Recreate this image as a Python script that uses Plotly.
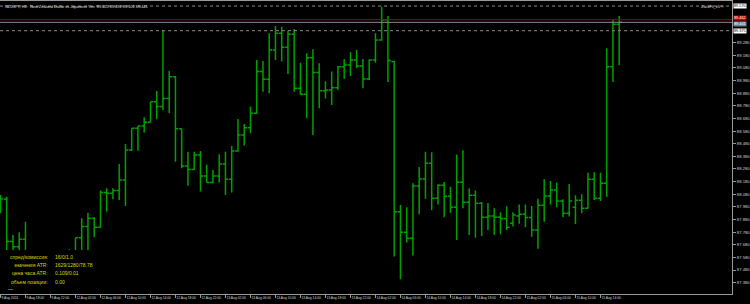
import plotly.graph_objects as go

# ---- data (NZDJPY H1, 9 Aug 14:00 .. 15 Aug 17:00) ----
bar_index = list(range(100))
open_ = [87.982, 88.043, 87.705, 87.665, 87.723, 87.560, 87.480, 87.428, 87.454, 87.507,
         87.560, 87.533, 87.612, 87.736, 87.824, 87.889, 87.818, 88.093, 88.087, 88.109,
         88.193, 88.430, 88.602, 88.620, 88.650, 88.813, 88.774, 88.837, 89.011, 88.599,
         88.304, 88.275, 88.391, 88.225, 88.172, 88.225, 88.320, 88.198, 88.423, 88.549,
         88.607, 88.721, 89.051, 88.990, 89.222, 89.354, 89.243, 89.346, 88.919, 88.871,
         89.161, 89.043, 88.900, 88.905, 88.924, 89.090, 89.103, 89.143, 89.095, 88.993,
         89.143, 89.301, 89.460, 89.130, 87.942, 87.779, 87.731, 88.145, 88.201, 88.325,
         88.048, 88.151, 88.064, 87.977, 88.175, 88.016, 88.072, 88.008, 87.897, 87.908,
         87.897, 87.887, 87.850, 87.908, 87.921, 87.895, 87.797, 87.992, 88.066, 88.114,
         88.027, 87.929, 87.977, 88.032, 87.969, 88.198, 88.048, 88.167, 89.090, 89.425]
high = [88.074, 88.061, 87.758, 87.779, 87.863, 87.586, 87.533, 87.507, 87.533, 87.599,
        87.612, 87.644, 87.736, 87.889, 87.934, 87.897, 88.109, 88.127, 88.127, 88.320,
        88.478, 88.602, 88.620, 88.689, 88.813, 88.898, 89.381, 89.056, 89.016, 88.599,
        88.417, 88.417, 88.423, 88.314, 88.272, 88.396, 88.417, 88.462, 88.676, 88.636,
        88.774, 89.143, 89.135, 89.354, 89.412, 89.407, 89.375, 89.388, 89.122, 89.196,
        89.227, 89.117, 88.974, 89.051, 89.095, 89.148, 89.204, 89.222, 89.151, 89.148,
        89.354, 89.565, 89.491, 89.135, 87.995, 87.977, 88.167, 88.296, 88.417, 88.412,
        88.159, 88.177, 88.140, 88.394, 88.428, 88.127, 88.109, 88.019, 88.011, 87.969,
        87.937, 87.984, 87.937, 87.998, 87.998, 87.987, 88.045, 88.198, 88.185, 88.172,
        88.040, 88.161, 88.072, 88.080, 88.251, 88.254, 88.251, 89.235, 89.465, 89.491]
low = [87.929, 87.533, 87.560, 87.586, 87.507, 87.428, 87.375, 87.348, 87.388, 87.428,
       87.467, 87.480, 87.533, 87.612, 87.599, 87.739, 87.818, 87.942, 88.040, 88.035,
       87.987, 88.423, 88.425, 88.568, 88.647, 88.673, 88.747, 88.721, 88.338, 88.285,
       88.148, 88.272, 88.101, 88.172, 88.167, 88.172, 88.074, 88.093, 88.417, 88.465,
       88.562, 88.715, 88.892, 88.879, 89.143, 89.130, 89.032, 88.892, 88.866, 88.681,
       88.549, 88.760, 88.837, 88.787, 88.905, 88.995, 89.016, 89.077, 88.919, 88.985,
       89.122, 89.296, 88.969, 87.586, 87.406, 87.697, 87.594, 87.921, 88.045, 87.953,
       87.998, 87.897, 87.934, 87.718, 87.969, 87.758, 87.736, 87.750, 87.797, 87.758,
       87.763, 87.797, 87.824, 87.847, 87.818, 87.744, 87.649, 87.863, 87.998, 87.977,
       87.897, 87.903, 87.845, 87.929, 87.966, 88.035, 88.027, 88.061, 88.969, 89.101]
close = [88.043, 87.705, 87.665, 87.723, 87.560, 87.480, 87.428, 87.454, 87.507, 87.560,
         87.533, 87.612, 87.736, 87.824, 87.889, 87.818, 88.093, 88.087, 88.109, 88.193,
         88.430, 88.602, 88.620, 88.650, 88.813, 88.774, 88.837, 89.011, 88.599, 88.304,
         88.275, 88.391, 88.225, 88.172, 88.225, 88.320, 88.198, 88.423, 88.549, 88.607,
         88.721, 89.051, 88.990, 89.222, 89.354, 89.243, 89.346, 88.919, 88.871, 89.161,
         89.043, 88.900, 88.905, 88.924, 89.090, 89.103, 89.143, 89.095, 88.993, 89.143,
         89.301, 89.460, 89.138, 87.942, 87.779, 87.731, 88.145, 88.201, 88.325, 88.048,
         88.151, 88.064, 87.977, 88.175, 88.016, 88.072, 88.008, 87.897, 87.908, 87.897,
         87.887, 87.818, 87.916, 87.921, 87.895, 87.797, 87.992, 88.066, 88.114, 88.027,
         87.929, 88.027, 88.032, 87.969, 88.198, 88.048, 88.167, 89.090, 89.425, 89.441]

x_tick_index = list(range(0, 100, 4))
x_tick_labels = ["9 Aug 2024", "9 Aug 18:00", "9 Aug 22:00",
                 "12 Aug 02:00", "12 Aug 06:00", "12 Aug 10:00", "12 Aug 14:00", "12 Aug 18:00", "12 Aug 22:00",
                 "13 Aug 02:00", "13 Aug 06:00", "13 Aug 10:00", "13 Aug 14:00", "13 Aug 18:00", "13 Aug 22:00",
                 "14 Aug 02:00", "14 Aug 06:00", "14 Aug 10:00", "14 Aug 14:00", "14 Aug 18:00", "14 Aug 22:00",
                 "15 Aug 02:00", "15 Aug 06:00", "15 Aug 10:00", "15 Aug 14:00"]
y_tick_values = [round(87.38 + 0.1 * k, 2) for k in range(20)]
y_tick_labels = ["%.3f" % v for v in y_tick_values]

level_high = 89.570
level_low = 89.375
ask_price = 89.462
bid_price = 89.441

info_labels = ["спред/комиссия:", "значения ATR:", "цена часа ATR:", "объем позиции:"]
info_values = ["16/0/1.0", "1629/1280/78.78", "0.109/0.01", "0.00"]

title_text = "NZDJPY, H1:  New Zealand Dollar vs Japanese Yen  %.3f %.3f %.3f %.3f" % (
    open_[-1], high[-1], low[-1], close[-1])

# ---- figure ----
fig = go.Figure()
fig.add_trace(go.Ohlc(
    x=bar_index, open=open_, high=high, low=low, close=close,
    increasing=dict(line=dict(color="#00a000", width=1.5)),
    decreasing=dict(line=dict(color="#00a000", width=1.5)),
    tickwidth=0.45, hoverinfo="skip", showlegend=False))

FONT = "Liberation Sans"
axis_col = "#9a9a9a"
fig.update_layout(
    width=750, height=304, autosize=False,
    margin=dict(l=0, r=18, t=1, b=10),
    paper_bgcolor="black", plot_bgcolor="black",
    showlegend=False,
    xaxis=dict(range=[-0.072, 117.05], rangeslider=dict(visible=False),
               showgrid=False, zeroline=False,
               showline=True, linecolor=axis_col, linewidth=1, mirror=True,
               tickmode="array", tickvals=x_tick_index, ticktext=x_tick_labels,
               ticks="outside", ticklen=3, tickcolor=axis_col, tickangle=0,
               ticklabelposition="outside right",
               tickfont=dict(family=FONT, size=3.3, color="#d0d0d0")),
    yaxis=dict(range=[87.290, 89.610], side="right",
               showgrid=False, zeroline=False,
               showline=True, linecolor=axis_col, linewidth=1, mirror=True,
               tickmode="array", tickvals=y_tick_values, ticktext=y_tick_labels,
               ticks="outside", ticklen=3, tickcolor=axis_col,
               tickfont=dict(family=FONT, size=4.2, color="#d0d0d0")),
)

# horizontal price levels
fig.add_hline(y=level_high, line=dict(color="#8a8a8a", width=1, dash="dot"))
fig.add_hline(y=level_low, line=dict(color="#8a8a8a", width=1, dash="dot"))
fig.add_hline(y=ask_price, line=dict(color="#a00000", width=1))
fig.add_hline(y=bid_price, line=dict(color="#8a8a8a", width=1))

# black info panel covering the lower-left corner
fig.add_shape(type="rect", xref="paper", yref="paper", x0=0, x1=0.13, y0=0.005, y1=0.15,
              fillcolor="black", line=dict(width=0), layer="above")

ann = []
ann.append(dict(text=title_text, xref="paper", yref="paper", x=0.004, y=0.997,
                xanchor="left", yanchor="top", showarrow=False,
                font=dict(family=FONT, size=3.9, color="#e0e0e0")))
ann.append(dict(text="ZuckFil_v5 ©", xref="paper", yref="paper", x=0.992, y=0.997,
                xanchor="right", yanchor="top", showarrow=False,
                font=dict(family=FONT, size=3.9, color="#e0e0e0")))
panel_rows = [0.126, 0.098, 0.071, 0.042]
for lab, val, yy in zip(info_labels, info_values, panel_rows):
    ann.append(dict(text=lab, xref="paper", yref="paper", x=0.068, y=yy,
                    xanchor="right", yanchor="middle", showarrow=False,
                    font=dict(family=FONT, size=5, color="#d8d800")))
    ann.append(dict(text=val, xref="paper", yref="paper", x=0.072, y=yy,
                    xanchor="left", yanchor="middle", showarrow=False,
                    font=dict(family=FONT, size=5, color="#d8d800")))
ann.append(dict(text="—", xref="paper", yref="paper", x=0.008, y=0.018,
                xanchor="left", yanchor="middle", showarrow=False,
                font=dict(family=FONT, size=5, color="#e0e0e0")))

# price boxes on the right axis
mid_ab = (ask_price + bid_price) / 2
boxes = [(level_high, "middle", "#ffffff", "#000000", level_high),
         (mid_ab, "bottom", "#d00000", "#ffffff", ask_price),
         (mid_ab, "top", "#708090", "#ffffff", bid_price),
         (level_low, "middle", "#ffffff", "#000000", level_low)]
for ypos, anchor, bg, fg, price in boxes:
    ann.append(dict(text="%.3f" % price, xref="paper", yref="y", x=1.002, y=ypos,
                    xanchor="left", yanchor=anchor, showarrow=False,
                    bgcolor=bg, borderpad=0,
                    font=dict(family=FONT, size=3.8, color=fg)))
fig.update_layout(annotations=ann)

fig.write_html("out.html")
